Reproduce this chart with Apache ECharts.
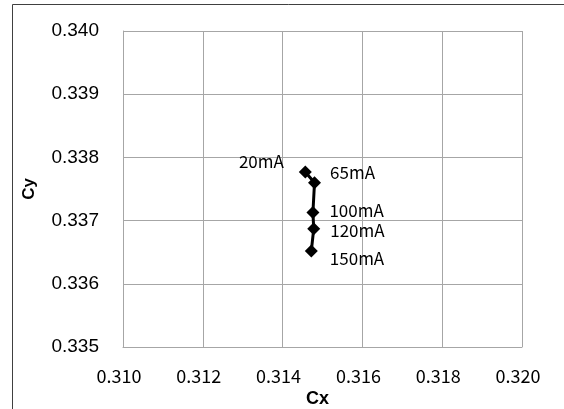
<!DOCTYPE html>
<html>
<head>
<meta charset="utf-8">
<script src="https://cdn.jsdelivr.net/npm/echarts@6/dist/echarts.min.js"></script>
<style>html,body{margin:0;padding:0;background:#fff;}#c{width:564px;height:409px;}</style>
</head>
<body>
<div id="c"></div>
<script>
var currents = ['20mA', '65mA', '100mA', '120mA', '150mA'];
var cx = [0.31457, 0.31480, 0.31476, 0.31478, 0.31472];
var cy = [0.33777, 0.33760, 0.33713, 0.33687, 0.33652];
var xTicks = [0.310, 0.312, 0.314, 0.316, 0.318, 0.320];
var yTicks = [0.335, 0.336, 0.337, 0.338, 0.339, 0.340];

var labelPlacement = [
  {position: 'left', distance: 15, offset: [0, -10]},
  {position: 'right', distance: 9, offset: [0, -10]},
  {position: 'right', distance: 10, offset: [0, -2]},
  {position: 'right', distance: 10, offset: [0, 2]},
  {position: 'right', distance: 12, offset: [0, 8]}
];

var chart = echarts.init(document.getElementById('c'), null, {renderer: 'canvas'});
var pts = cx.map(function (x, i) {
  return {
    value: [x, cy[i]],
    label: Object.assign({show: true, formatter: currents[i]}, labelPlacement[i])
  };
});

chart.setOption({
  animation: false,
  backgroundColor: '#fff',
  graphic: [{
    type: 'rect',
    shape: {x: 12.5, y: 4.5, width: 700, height: 600},
    style: {fill: 'none', stroke: '#404040', lineWidth: 1},
    silent: true
  }],
  grid: {left: 123, right: 42, top: 31, bottom: 62, containLabel: false, outerBoundsMode: 'none'},
  xAxis: {
    type: 'value',
    min: xTicks[0], max: xTicks[xTicks.length - 1], interval: 0.002,
    name: 'Cx', nameLocation: 'middle', nameGap: 42,
    nameTextStyle: {fontFamily: 'Liberation Sans', fontWeight: 'bold', fontSize: 18, color: '#000', padding: [0, 10, 0, 0]},
    axisLine: {show: true, lineStyle: {color: '#a6a6a6', width: 1}},
    axisTick: {show: false},
    splitLine: {show: true, lineStyle: {color: '#a6a6a6', width: 1}},
    axisLabel: {margin: 20, fontFamily: 'Noto Sans CJK KR', fontSize: 18, color: '#000', padding: [0, 8, 0, 0],
      formatter: function (v) { return v.toFixed(3); }}
  },
  yAxis: {
    type: 'value',
    min: yTicks[0], max: yTicks[yTicks.length - 1], interval: 0.001,
    name: 'Cy', nameLocation: 'middle', nameGap: 85, nameRotate: 90,
    nameTextStyle: {fontFamily: 'Liberation Sans', fontWeight: 'bold', fontSize: 17, color: '#000'},
    axisLine: {show: true, lineStyle: {color: '#a6a6a6', width: 1}},
    axisTick: {show: false},
    splitLine: {show: true, lineStyle: {color: '#a6a6a6', width: 1}},
    axisLabel: {margin: 24, fontFamily: 'Liberation Sans', fontSize: 19, color: '#000',
      formatter: function (v) { return v.toFixed(3); }}
  },
  series: [{
    type: 'line',
    data: pts,
    symbol: 'diamond',
    symbolSize: 13,
    lineStyle: {color: '#000', width: 3},
    itemStyle: {color: '#000'},
    label: {fontFamily: 'Noto Sans CJK KR', fontSize: 17, color: '#000'},
    z: 5
  }, {
    type: 'line',
    data: [],
    markLine: {
      silent: true, symbol: 'none', label: {show: false},
      lineStyle: {color: '#a6a6a6', width: 1, type: 'solid'},
      data: [{xAxis: xTicks[xTicks.length - 1]}, {yAxis: yTicks[yTicks.length - 1]}]
    }
  }]
});
</script>
</body>
</html>
